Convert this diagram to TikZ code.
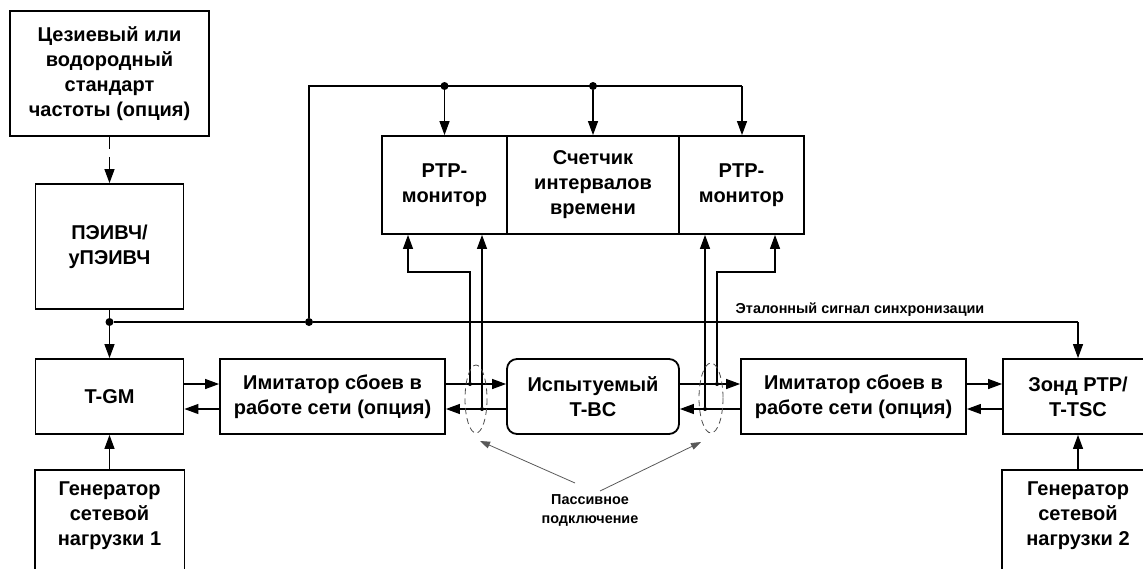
\documentclass[tikz,border=0pt]{standalone}
\usepackage{fontspec}
\setmainfont{Liberation Sans}
\usetikzlibrary{arrows.meta,calc}

\begin{document}
\begin{tikzpicture}[
    x=0.5pt, y=-0.5pt,
    block/.style={draw, line width=0.9pt, align=center, inner sep=2pt,
        font=\bfseries\fontsize{10}{12.5}\selectfont},
    textonly/.style={block, draw=none},
    note/.style={align=center, inner sep=1pt,
        font=\bfseries\fontsize{7.2}{9.5}\selectfont},
    link/.style={line width=0.6pt},
    pointer/.style={line width=0.4pt, black!65, -{Triangle[length=5pt,width=3.5pt]}},
    dot/.style={circle, fill, inner sep=0pt, minimum size=4pt},
    tap/.style={circle, fill, inner sep=0pt, minimum size=2pt},
    >={Triangle[length=7pt,width=5pt]}
]
    \useasboundingbox (0,0) rectangle (1143,568);
    \clip (0,0) rectangle (1143,568);

    % Reference clock chain
    \node[block, minimum width=99.5pt, minimum height=62.5pt] (cs) at (109.5,73.5)
        {Цезиевый или\\водородный\\стандарт\\частоты (опция)};
    \node[block, minimum width=74pt, minimum height=62.5pt] (pe) at (109.5,246.5)
        {ПЭИВЧ/\\уПЭИВЧ};

    % Monitors and counter
    \node[block, minimum width=62.5pt, minimum height=49pt] (mon1) at (444.5,185) {PTP-\\монитор};
    \node[block, minimum width=86pt, minimum height=49pt] (tic) at (593,185) {Счетчик\\интервалов\\времени};
    \node[block, minimum width=62.5pt, minimum height=49pt] (mon2) at (741.5,185) {PTP-\\монитор};

    % Test path
    \node[block, minimum width=74pt, minimum height=37.5pt] (tgm) at (109.5,396.5) {T-GM};
    \node[block, minimum width=112.5pt, minimum height=37.5pt] (imit1) at (332.5,396.5)
        {Имитатор сбоев в\\работе сети (опция)};
    \node[block, rounded corners=5pt, minimum width=86pt, minimum height=37.5pt] (dut) at (593,396.5)
        {Испытуемый\\T-BC};
    \node[block, minimum width=112.5pt, minimum height=37.5pt] (imit2) at (853.5,396.5)
        {Имитатор сбоев в\\работе сети (опция)};
    \node[block, minimum width=75pt, minimum height=37.5pt] (probe) at (1078,396.5)
        {Зонд PTP/\\T-TSC};

    % Load generators (cut by the lower edge)
    \node[textonly, minimum width=74pt, minimum height=44.5pt] (gen1) at (109.5,515.5)
        {Генератор\\сетевой\\нагрузки 1};
    \node[textonly, minimum width=75pt, minimum height=44.5pt] (gen2) at (1078,515.5)
        {Генератор\\сетевой\\нагрузки 2};
    \foreach \g in {gen1,gen2} {
        \draw[line width=0.9pt] ($(\g.south west)+(0,30)$) |- (\g.north) -| ($(\g.south east)+(0,30)$);
    }
    \draw[link, ->] (gen1) -- (tgm);
    \draw[link, ->] (gen2) -- (probe);

    % Frequency reference
    \draw[link, dashed, dash pattern=on 6pt off 4pt, ->] (cs) -- (pe);

    % Sync bus
    \node[dot] (j1) at (109.5,322) {};
    \node[dot] (j2) at (309,322) {};
    \coordinate (sr) at (1078,322);
    \draw[link] (pe) -- (j1);
    \draw[link, ->] (j1) -- (tgm);
    \draw[link] (j1) -- (j2) -- (sr);
    \draw[link, ->] (sr) -- (probe);
    \node[note] (synclbl) at (860,310) {Эталонный сигнал синхронизации};

    % Top bus to monitors
    \coordinate (bl) at (309,86);
    \coordinate (br) at (742,86);
    \node[dot] (b1) at (444.5,86) {};
    \node[dot] (b2) at (593,86) {};
    \draw[link] (j2) -- (bl) -- (br);
    \draw[link, ->] (b1) -- (mon1);
    \draw[link, ->] (b2) -- (tic);
    \draw[link, ->] (br) -- (br |- mon2.north);

    % Forward and return links
    \foreach \a/\b in {tgm/imit1, imit1/dut, dut/imit2, imit2/probe} {
        \draw[link, ->] ($(\a.east)+(0,-12.5)$) -- ($(\b.west)+(0,-12.5)$);
        \draw[link, ->] ($(\b.west)+(0,12.5)$) -- ($(\a.east)+(0,12.5)$);
    }

    % Passive taps
    \node[tap] (t1) at (470,384) {};
    \node[tap] (t2) at (482,409) {};
    \node[tap] (t3) at (705,409) {};
    \node[tap] (t4) at (717,384) {};
    \coordinate (k1) at (408,272);
    \coordinate (k2) at (775,272);
    \draw[link, ->] (t1) |- (k1) -- (k1 |- mon1.south);
    \draw[link, ->] (t2) -- (t2 |- mon1.south);
    \draw[link, ->] (t3) -- (t3 |- mon2.south);
    \draw[link, ->] (t4) |- (k2) -- (k2 |- mon2.south);
    \draw[black!70, line width=0.4pt, dashed, dash pattern=on 3pt off 2pt] (476,399) ellipse [x radius=11, y radius=34];
    \draw[black!70, line width=0.4pt, dashed, dash pattern=on 3pt off 2pt] (711,398) ellipse [x radius=12, y radius=35];

    % Passive connection label
    \node[note] (pas) at (590,510) {Пассивное\\подключение};
    \coordinate (pl) at (575,483);
    \coordinate (pr) at (600,491);
    \coordinate (el) at (480,441);
    \coordinate (er) at (701,442);
    \draw[pointer] (pl) -- (el);
    \draw[pointer] (pr) -- (er);
\end{tikzpicture}
\end{document}
